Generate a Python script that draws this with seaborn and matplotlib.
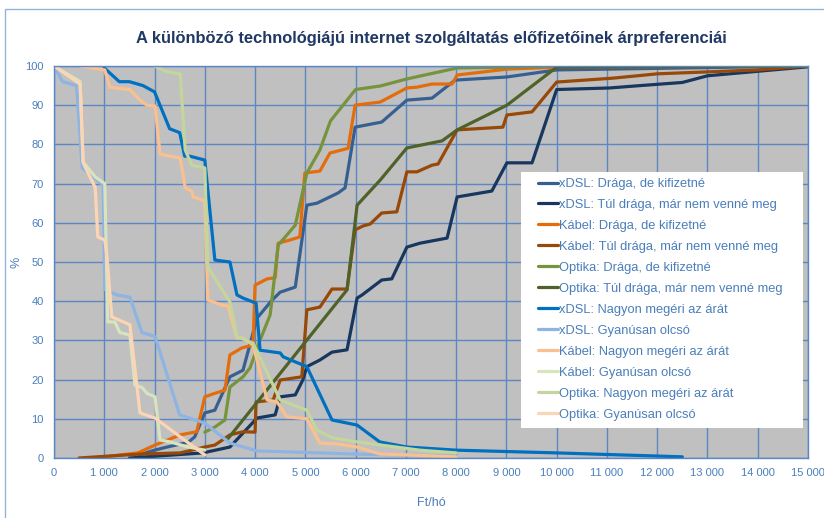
import matplotlib
matplotlib.use("Agg")
import matplotlib.pyplot as plt
import matplotlib.patches as mpatches
import seaborn as sns
import pandas as pd

# Series data (x: Ft/hó, y: %)
xdsl_draga_x = [1700, 2000, 2250, 2670, 2800, 3000, 3200, 3500, 3760, 4040, 4340, 4500, 4800, 4890, 5030, 5230, 5650, 5790, 5990, 6520, 7020, 7520, 7980, 9010, 10000, 15000]
xdsl_draga_y = [0.8, 2, 2.8, 4, 5.4, 11.5, 12.2, 20.7, 22.4, 35.7, 40.3, 42.3, 43.6, 51.8, 64.5, 65, 67.6, 68.9, 84.4, 85.7, 91.3, 91.8, 96.4, 97.2, 99, 100]

xdsl_tul_x = [1500, 2960, 3500, 4040, 4400, 4500, 4800, 4950, 5030, 5290, 5530, 5830, 6030, 6130, 6520, 6720, 7020, 7280, 7820, 8020, 8710, 9010, 9510, 10000, 11060, 11660, 12500, 13000, 15000]
xdsl_tul_y = [0, 1.3, 2.8, 10.2, 11, 15.6, 16.1, 19.9, 23.3, 25, 27, 27.6, 40.8, 41.6, 45.4, 45.7, 53.8, 54.8, 56.1, 66.6, 68.1, 75.3, 75.3, 94, 94.4, 95, 95.8, 97.5, 99.8]

kabel_draga_x = [1000, 1670, 2010, 2510, 2840, 3000, 3200, 3400, 3500, 3740, 3960, 4000, 4240, 4400, 4460, 4690, 4890, 4990, 5290, 5490, 5850, 5990, 6490, 7020, 7220, 7520, 7920, 8020, 9010, 10000, 15000]
kabel_draga_y = [0.3, 1.3, 3.3, 5.9, 6.7, 15.6, 16.5, 17.3, 26.3, 28.1, 28.8, 44.1, 45.7, 46, 54.8, 55.6, 56.4, 72.7, 73.2, 77.8, 79, 90, 90.8, 94.4, 94.6, 95.4, 95.4, 97.7, 99.2, 99.7, 100]

kabel_tul_x = [500, 1710, 2510, 3000, 3200, 3500, 3760, 4000, 4020, 4360, 4500, 4930, 5030, 5290, 5530, 5830, 5990, 6150, 6290, 6520, 6820, 7020, 7220, 7520, 7640, 8020, 8930, 9010, 9510, 10000, 11120, 11520, 12000, 13000, 14000, 15000]
kabel_tul_y = [0, 1, 1.3, 2.8, 3.3, 5.9, 6.7, 6.6, 14.3, 14.8, 19.9, 20.7, 37.8, 38.5, 43.1, 43.1, 58.2, 59.2, 59.7, 62.5, 62.8, 73, 73, 74.7, 75, 83.7, 84.4, 87.5, 88.3, 95.9, 96.9, 97.4, 98, 98.5, 99, 100]

optika_draga_x = [3000, 3200, 3400, 3500, 3760, 3900, 4100, 4300, 4460, 4800, 5030, 5290, 5500, 6000, 6490, 7020, 8020, 9010, 10000, 15000]
optika_draga_y = [6.6, 7.9, 9.7, 18.1, 20.7, 23, 30.1, 36.5, 54.3, 59.4, 72.7, 78.6, 86, 94, 94.9, 96.7, 99.5, 99.7, 100, 100]

optika_tul_x = [3440, 5830, 6030, 6490, 7020, 7720, 8020, 9010, 10000, 15000]
optika_tul_y = [4.6, 42.9, 64.5, 70.9, 79.1, 80.9, 83.7, 90, 99.7, 100]

xdsl_nagyon_x = [1000, 1300, 1500, 1770, 2000, 2300, 2500, 2600, 2700, 3000, 3200, 3500, 3640, 3760, 4020, 4100, 4500, 4560, 5030, 5530, 6030, 6480, 7020, 8000, 10000, 12500]
xdsl_nagyon_y = [99.5, 96, 96, 95, 93.4, 84, 83, 77, 77, 76, 50.5, 50, 41.6, 40.8, 39.5, 27.5, 26.8, 25.8, 23.3, 9.7, 8.4, 4.1, 2.8, 2, 1.3, 0.3]

xdsl_gyan_x = [0, 170, 450, 560, 980, 1010, 1250, 1510, 1750, 2010, 2500, 3000, 3500, 4040, 5300, 6000, 8000]
xdsl_gyan_y = [100, 96, 95, 74, 69.6, 43, 41.6, 41, 32, 31, 11, 8.9, 3.8, 1.8, 1.3, 1, 0.5]

kabel_nagyon_x = [520, 1010, 1110, 1270, 1510, 1710, 1850, 2010, 2110, 2510, 2610, 2740, 2770, 3000, 3060, 3340, 3460, 3640, 3760, 3960, 4240, 4440, 4630, 5030, 5290, 5630, 6030, 6490, 7020, 8000]
kabel_nagyon_y = [100, 99, 94.6, 94.3, 94, 91.3, 90, 89.8, 77.5, 76.5, 69, 68, 66.6, 65.6, 40.3, 39, 38.8, 30.6, 30.6, 28.8, 14.8, 14.3, 10.5, 10, 3.8, 3.6, 2.8, 1, 0.8, 0.3]

kabel_gyan_x = [0, 520, 580, 820, 1010, 1070, 1210, 1310, 1510, 1610, 1750, 1850, 2010, 2110, 2310, 2670, 3000]
kabel_gyan_y = [100, 96, 75.5, 71.7, 70, 34.7, 34.7, 32, 31.4, 18.6, 18, 16.5, 15.6, 4.6, 4.1, 2.8, 2]

optika_nagyon_x = [2000, 2250, 2510, 2610, 2740, 3000, 3060, 3500, 3640, 3960, 4500, 5030, 5230, 5550, 6030, 7280, 8000]
optika_nagyon_y = [100, 98.5, 98, 78.6, 74.7, 74, 48.7, 39.8, 31, 29.3, 14.8, 12.2, 7.1, 5.1, 4.1, 2, 1.3]

optika_gyan_x = [0, 520, 580, 820, 870, 1010, 1050, 1150, 1510, 1710, 2010, 2510, 3000]
optika_gyan_y = [100, 95.4, 75.3, 69, 56.4, 55.6, 52, 36, 34, 11.5, 10.2, 5.4, 0.8]

series = [
    ("xDSL: Drága, de kifizetné", xdsl_draga_x, xdsl_draga_y, "#376092"),
    ("xDSL: Túl drága, már nem venné meg", xdsl_tul_x, xdsl_tul_y, "#17375E"),
    ("Kábel: Drága, de kifizetné", kabel_draga_x, kabel_draga_y, "#E46C0A"),
    ("Kábel: Túl drága, már nem venné meg", kabel_tul_x, kabel_tul_y, "#984807"),
    ("Optika: Drága, de kifizetné", optika_draga_x, optika_draga_y, "#77933C"),
    ("Optika: Túl drága, már nem venné meg", optika_tul_x, optika_tul_y, "#4F6228"),
    ("xDSL: Nagyon megéri az árát", xdsl_nagyon_x, xdsl_nagyon_y, "#0070C0"),
    ("xDSL: Gyanúsan olcsó", xdsl_gyan_x, xdsl_gyan_y, "#8DB4E2"),
    ("Kábel: Nagyon megéri az árát", kabel_nagyon_x, kabel_nagyon_y, "#FAC090"),
    ("Kábel: Gyanúsan olcsó", kabel_gyan_x, kabel_gyan_y, "#D7E4BD"),
    ("Optika: Nagyon megéri az árát", optika_nagyon_x, optika_nagyon_y, "#C3D69B"),
    ("Optika: Gyanúsan olcsó", optika_gyan_x, optika_gyan_y, "#FCD5B5"),
]

rows = []
for name, xs, ys, _ in series:
    for x, y in zip(xs, ys):
        rows.append({"series": name, "ft": x, "pct": y})
df = pd.DataFrame(rows)
order = [s[0] for s in series]
palette = {s[0]: s[3] for s in series}

sns.set_style("white")
plt.rcParams['font.family'] = ['Liberation Sans', 'DejaVu Sans']

blue_txt = "#4A7EBB"
grid_col = "#5B87C5"

fig = plt.figure(figsize=(8.24, 5.18), dpi=100)
ax = fig.add_axes([54 / 824, 1 - 458 / 518, 754 / 824, 392 / 518])
ax.set_facecolor("#C0C0C0")

sns.lineplot(data=df, x="ft", y="pct", hue="series", hue_order=order, palette=palette,
             sort=False, estimator=None, linewidth=2.3, ax=ax)

ax.set_xlim(0, 15000)
ax.set_ylim(0, 100)
xt = list(range(0, 15001, 1000))
ax.set_xticks(xt)
ax.set_xticklabels([f"{v:,}".replace(",", " ") for v in xt])
ax.set_yticks(range(0, 101, 10))
ax.grid(True, color=grid_col, linewidth=1.0)
ax.set_axisbelow(True)
for sp in ax.spines.values():
    sp.set_color(grid_col)
    sp.set_linewidth(1.0)
ax.tick_params(axis="both", colors=grid_col, labelcolor=blue_txt, labelsize=8, length=4, direction="out")
ax.set_xlabel("Ft/hó", color=blue_txt, fontsize=9)
ax.set_ylabel("%", color=blue_txt, fontsize=9, rotation=90)
ax.xaxis.set_label_coords((431 - 54) / 754, (458 - 497) / 392)
ax.yaxis.set_label_coords((22 - 54) / 754, 0.5)

# white legend box
ax.add_patch(mpatches.Rectangle(((521 - 54) / 754, (458 - 428) / 392), (803 - 521) / 754, (428 - 172) / 392,
                                transform=ax.transAxes, facecolor="white", edgecolor="none", zorder=4.5))
leg = ax.legend(loc="upper left", bbox_to_anchor=((538 - 54) / 754, (458 - 178) / 392), frameon=False,
                fontsize=9.3, handlelength=1.55, handletextpad=0.1, labelspacing=0.69,
                borderpad=0, borderaxespad=0)
leg.set_zorder(6)
for t in leg.get_texts():
    t.set_color(blue_txt)

fig.text(431 / 824, 1 - 38 / 518, "A különböző technológiájú internet szolgáltatás előfizetőinek árpreferenciái",
         ha="center", va="center", fontsize=11.9, fontweight="bold", color="#1F3864")

fig.patches.append(mpatches.Rectangle((5 / 824, -0.1), 1.2, 1 - 9 / 518 + 0.1, transform=fig.transFigure,
                                      fill=False, edgecolor="#95B3D7", linewidth=1.0))

fig.savefig("out.png", dpi=100)
